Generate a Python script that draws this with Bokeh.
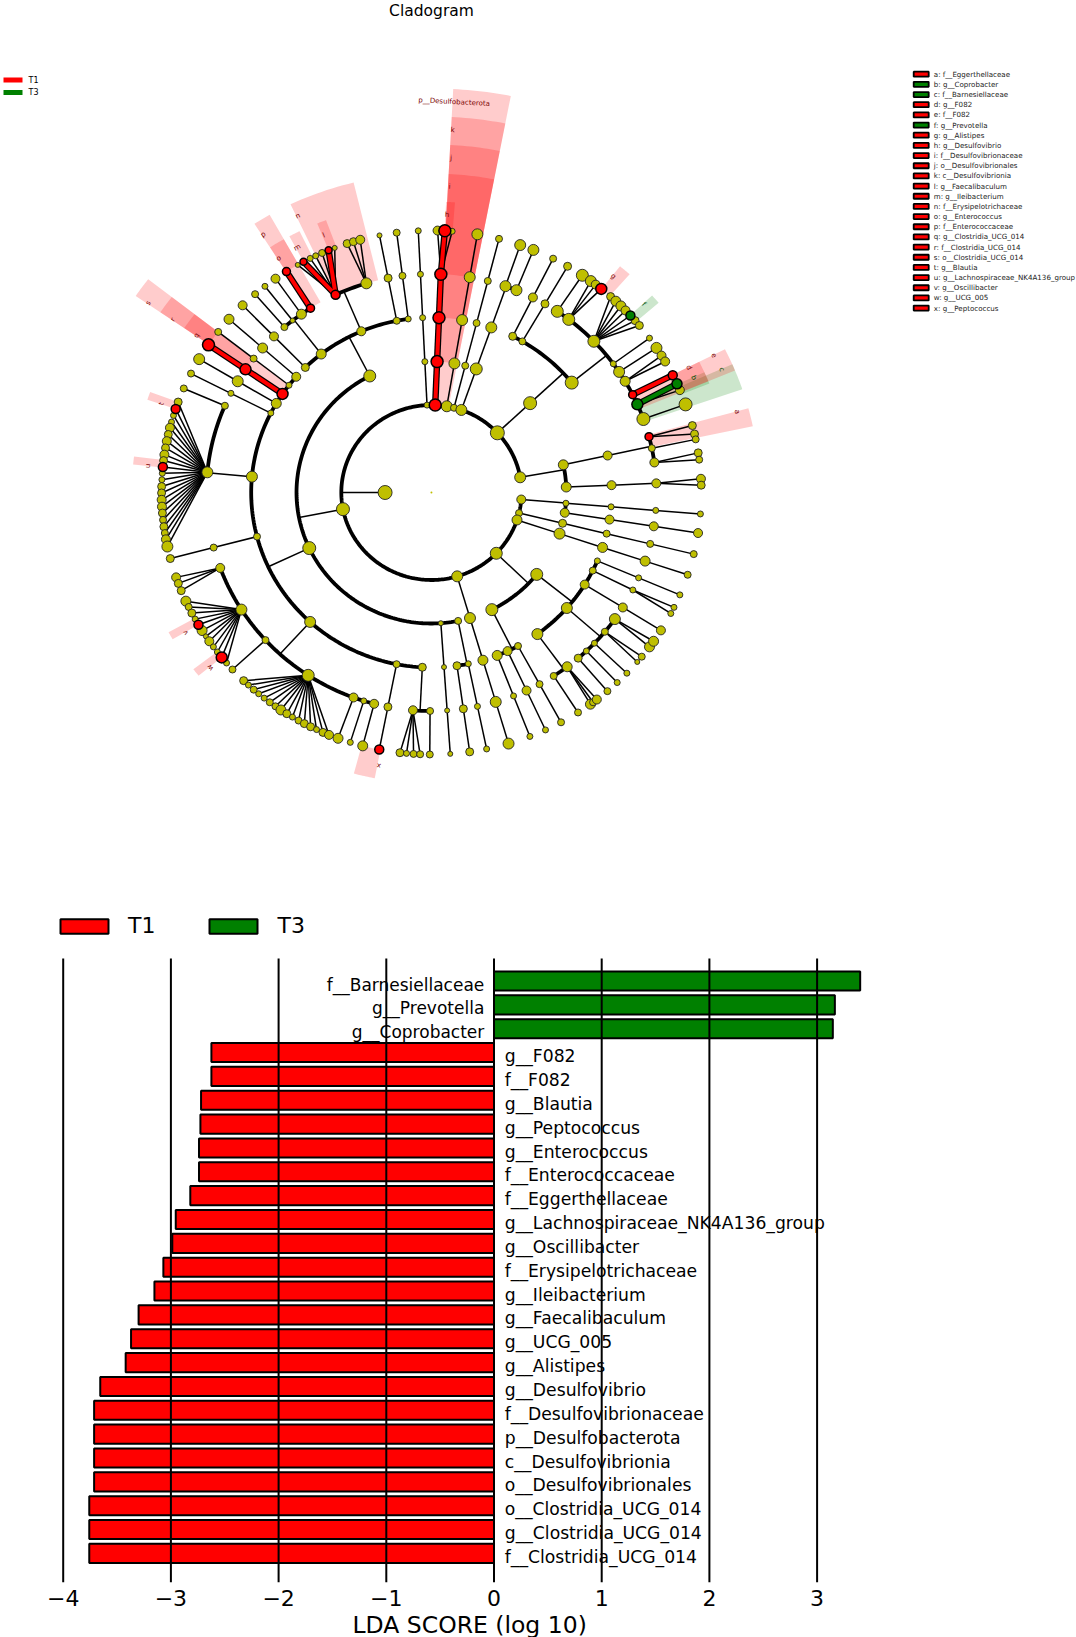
import math
from bokeh.core.properties import value
from bokeh.embed import file_html
from bokeh.layouts import column
from bokeh.models import FixedTicker, Legend, LegendItem, Range1d, Title
from bokeh.plotting import figure
from bokeh.resources import INLINE

FONT = "DejaVu Sans"

# ---- bar chart data (top to bottom) ----
bar_names = ["f__Barnesiellaceae", "g__Prevotella", "g__Coprobacter", "g__F082", "f__F082", "g__Blautia",
             "g__Peptococcus", "g__Enterococcus", "f__Enterococcaceae", "f__Eggerthellaceae",
             "g__Lachnospiraceae_NK4A136_group", "g__Oscillibacter", "f__Erysipelotrichaceae", "g__Ileibacterium",
             "g__Faecalibaculum", "g__UCG_005", "g__Alistipes", "g__Desulfovibrio", "f__Desulfovibrionaceae",
             "p__Desulfobacterota", "c__Desulfovibrionia", "o__Desulfovibrionales", "o__Clostridia_UCG_014",
             "g__Clostridia_UCG_014", "f__Clostridia_UCG_014"]
bar_values = [3.40, 3.165, 3.146, -2.624, -2.624, -2.72, -2.726, -2.739, -2.739, -2.82, -2.955, -2.987, -3.07,
              -3.153, -3.30, -3.37, -3.42, -3.656, -3.713, -3.713, -3.713, -3.713, -3.758, -3.758, -3.758]
bar_ticks = [-4, -3, -2, -1, 0, 1, 2, 3]

# ---- legend of the cladogram ----
key_labels = ["a: f__Eggerthellaceae", "b: g__Coprobacter", "c: f__Barnesiellaceae", "d: g__F082", "e: f__F082",
              "f: g__Prevotella", "g: g__Alistipes", "h: g__Desulfovibrio", "i: f__Desulfovibrionaceae",
              "j: o__Desulfovibrionales", "k: c__Desulfovibrionia", "l: g__Faecalibaculum", "m: g__Ileibacterium",
              "n: f__Erysipelotrichaceae", "o: g__Enterococcus", "p: f__Enterococcaceae", "q: g__Clostridia_UCG_014",
              "r: f__Clostridia_UCG_014", "s: o__Clostridia_UCG_014", "t: g__Blautia",
              "u: g__Lachnospiraceae_NK4A136_group", "v: g__Oscillibacter", "w: g__UCG_005", "x: g__Peptococcus"]
key_groups = list("rggrrgrrrrrrrrrrrrrrrrrr")

# ---- cladogram: (name, parent, clockwise angle from north, node diameters outward, colours) ----
clade_top = [
    ("", "K", 357.2, [6, 6, 6, 6, 6], ""),
    ("h4", "K", 2.4, [12, 12, 12, 12], "rrrr"),
    ("", "h4", 1.3, [9], ""), ("", "h4", 2.85, [12], "r"), ("", "h4", 4.4, [6], ""),
    ("", "K", 9.8, [11, 11, 11, 11, 11], ""),
    ("", "K", 14.5, [7, 7, 7, 7, 7], ""),
    ("f3", "K", 19.4, [11, 12, 11], ""),
    ("", "f3", 19.2, [11, 11], ""), ("", "f3", 22.2, [11, 11], ""),
]
clade_right_upper = [
    ("m2", "K", 47.0, [14, 13], ""),
    ("", "m2", 26.8, [8, 9, 7], ""), ("", "m2", 30.3, [7, 8, 8], ""),
    ("m3", "m2", 51.1, [13], ""),
    ("", "m3", 34.0, [12, 12], ""),
    ("n37", "m3", 37.6, [12], ""),
    ("", "n37", 36.2, [11], ""), ("", "n37", 37.5, [9], ""), ("", "n37", 39.0, [11], "r"),
    ("n46", "m3", 46.2, [12], ""),
    ("", "n46", 41.6, [8], ""), ("", "n46", 43.1, [10], ""), ("", "n46", 44.6, [10], ""), ("", "n46", 46.0, [9], ""),
    ("", "n46", 47.5, [9], "g"), ("", "n46", 49.0, [8], ""), ("", "n46", 50.4, [8], ""),
    ("", "m3", 53.9, [6, 6], ""),
    ("", "m3", 56.5, [11, 11], ""),
    ("n59", "m3", 59.4, [10], ""), ("", "n59", 58.5, [9], ""), ("", "n59", 60.0, [9], ""),
    ("", "m3", 63.4, [8, 9], "rr"),
    ("n66", "m3", 66.2, [11], "g"), ("", "n66", 65.5, [10], "g"), ("", "n66", 67.0, [9], ""),
    ("", "m3", 70.35, [13, 13], ""),
]
clade_right_mid = [
    ("b1", "K", 80.0, [11], ""),
    ("b2", "b1", 87.6, [10, 9, 9], ""), ("", "b2", 87.0, [9], ""), ("", "b2", 88.4, [8], ""),
    ("b3", "b1", 77.8, [10, 9], ""),
    ("b75", "b3", 75.2, [8], "r"), ("", "b75", 75.2, [8], ""), ("", "b75", 77.1, [8], ""),
    ("", "b3", 78.3, [7, 7], ""),
    ("b82", "b3", 82.1, [9], ""), ("", "b82", 81.3, [8], ""), ("", "b82", 82.8, [7], ""),
    ("c1", "K", 94.6, [9], ""),
    ("", "c1", 94.7, [6, 6, 6, 6], ""), ("", "c1", 98.9, [9, 9, 9, 9], ""),
    ("", "K", 103.6, [7, 8, 7, 7, 7], ""),
    ("", "K", 108.3, [10, 11, 10, 10, 7], ""),
]
clade_lower_right = [
    ("d1", "K", 134.0, [12], ""),
    ("d2", "d1", 153.4, [12], ""),
    ("", "d2", 158.6, [10, 6, 6], ""), ("", "d2", 155.0, [9, 9, 6], ""), ("", "d2", 151.3, [7, 7, 7], ""),
    ("d4", "d1", 128.7, [12], ""),
    ("d5", "d4", 144.0, [11], ""),
    ("", "d5", 147.1, [7, 7], ""),
    ("d6", "d5", 142.9, [10], ""), ("", "d6", 143.9, [10], ""), ("", "d6", 143.2, [7], ""), ("", "d6", 142.2, [9], ""),
    ("d7", "d4", 131.3, [11], ""),
    ("", "d7", 139.3, [8, 7], ""), ("", "d7", 136.5, [6, 6], ""), ("", "d7", 133.6, [6, 6], ""),
    ("d8", "d7", 129.6, [7], ""), ("", "d8", 130.3, [5], ""), ("", "d8", 128.8, [7], ""),
    ("d9", "d7", 125.4, [11], ""), ("", "d9", 126.1, [10], ""), ("", "d9", 124.6, [10], ""),
    ("", "d4", 121.75, [9, 9, 9], ""),
    ("d10", "d4", 116.5, [7, 6], ""), ("", "d10", 117.5, [6], ""), ("", "d10", 116.0, [6], ""),
    ("", "d4", 113.0, [6, 6, 6], ""),
    ("", "K", 163.4, [11, 11, 10, 11, 11], ""),
]
clade_left = [
    ("e1", "K", 259.0, [13], ""),
    ("e2", "e1", 244.9, [13], ""),
    ("", "e2", 311.4, [9, 10, 10], ""),
    ("", "e2", 307.8, [6, 7, 7], ""),
    ("", "e2", 304.3, [11, 11, 12], "rrr"),
    ("", "e2", 300.6, [10, 11, 11], ""),
    ("", "e2", 297.0, [6, 6, 7], ""),
    ("e3", "e2", 275.2, [11], ""),
    ("", "e3", 293.4, [7, 7], ""),
    ("e4", "e3", 275.3, [11], ""),
    ("", "e4", 290.2, [8], ""), ("", "e4", 288.6, [9], "r"), ("", "e4", 287.1, [6], ""), ("", "e4", 285.6, [6], ""),
    ("", "e4", 284.3, [9], ""), ("", "e4", 282.8, [8], ""), ("", "e4", 281.3, [9], ""), ("", "e4", 279.8, [8], ""),
    ("", "e4", 278.3, [9], ""), ("", "e4", 277.0, [8], ""), ("", "e4", 275.6, [9], "r"), ("", "e4", 274.2, [6], ""),
    ("", "e4", 272.8, [6], ""), ("", "e4", 271.3, [8], ""), ("", "e4", 269.9, [8], ""), ("", "e4", 268.4, [9], ""),
    ("", "e4", 266.9, [9], ""), ("", "e4", 265.5, [8], ""), ("", "e4", 264.0, [7], ""), ("", "e4", 262.5, [8], ""),
    ("", "e4", 261.1, [7], ""), ("", "e4", 259.7, [9], ""), ("", "e4", 258.1, [11], ""),
    ("", "e2", 255.4, [7, 7, 8], ""),
    ("e5", "e2", 222.3, [11], ""),
    ("e6", "e5", 249.8, [9], ""), ("", "e6", 251.1, [9], ""), ("", "e6", 249.7, [8], ""), ("", "e6", 248.0, [8], ""),
    ("e7", "e5", 237.6, [11], ""),
    ("", "e7", 245.5, [10], ""), ("", "e7", 244.1, [7], ""), ("", "e7", 242.6, [8], ""), ("", "e7", 241.1, [6], ""),
    ("", "e7", 239.7, [9], "r"), ("", "e7", 238.2, [10], ""), ("", "e7", 236.7, [5], ""), ("", "e7", 235.4, [9], ""),
    ("", "e7", 233.9, [6], ""), ("", "e7", 232.5, [6], ""), ("", "e7", 231.0, [11], "r"), ("", "e7", 229.4, [6], ""),
    ("", "e5", 227.5, [7, 7], ""),
    ("e8", "e5", 213.2, [12], ""),
    ("", "e8", 224.1, [8], ""), ("", "e8", 222.7, [6], ""), ("", "e8", 221.2, [7], ""), ("", "e8", 219.8, [6], ""),
    ("", "e8", 218.3, [6], ""), ("", "e8", 216.8, [7], ""), ("", "e8", 215.3, [7], ""), ("", "e8", 213.9, [10], ""),
    ("", "e8", 212.4, [8], ""), ("", "e8", 211.0, [6], ""), ("", "e8", 209.5, [7], ""), ("", "e8", 208.1, [8], ""),
    ("", "e8", 206.6, [8], ""), ("", "e8", 205.2, [6], ""), ("", "e8", 203.7, [8], ""), ("", "e8", 202.3, [9], ""),
    ("", "e5", 200.25, [9, 10], ""), ("", "e5", 197.5, [6, 6], ""), ("", "e5", 194.75, [9, 10], ""),
    ("", "e2", 191.15, [7, 8, 9], "oor"),
    ("e9", "e2", 182.9, [8], ""),
    ("e10", "e9", 184.7, [9], ""),
    ("", "e10", 186.7, [8], ""), ("", "e10", 185.3, [6], ""), ("", "e10", 183.8, [7], ""), ("", "e10", 182.4, [7], ""),
    ("", "e9", 180.35, [7, 7], ""),
    ("", "e1", 176.0, [5, 5, 5, 5], ""),
    ("e11", "e1", 168.6, [7], ""),
    ("", "e11", 171.85, [8, 8, 8], ""), ("", "e11", 168.2, [6, 6, 6], ""),
]
clade_top_left = [
    ("e20", "e1", 332.8, [12], ""),
    ("", "e20", 315.6, [8, 9, 9], ""),
    ("g1", "e20", 322.3, [10], ""),
    ("", "g1", 319.2, [7, 7], ""), ("", "g1", 321.9, [5, 6], ""), ("", "g1", 324.7, [10, 9], ""),
    ("", "g1", 327.5, [8, 8], "rr"),
    ("g2", "e20", 337.1, [9], ""),
    ("g3", "g2", 334.8, [9], "r"),
    ("", "g3", 330.3, [5], ""), ("", "g3", 331.7, [7], "r"), ("", "g3", 333.3, [6], ""), ("", "g3", 334.6, [6], ""),
    ("", "g3", 336.1, [7], ""), ("", "g3", 337.6, [7], "r"), ("", "g3", 339.0, [5], ""),
    ("g4", "g2", 343.2, [11], ""),
    ("", "g4", 341.8, [8], ""), ("", "g4", 343.2, [8], ""), ("", "g4", 344.7, [9], ""),
    ("", "e20", 348.9, [7, 8, 5], ""),
    ("", "e20", 352.6, [6, 7, 7], ""),
]

# ---- shaded sectors: label, level of the clade, first and last angle, group ----
shade_labels = ["a", "b", "c", "d", "e", "f", "g", "h", "i", "j", "k", "p__Desulfobacterota",
                "l", "m", "n", "o", "p", "q", "r", "s", "t", "u", "v", "w", "x"]
shade_levels = [4, 5, 4, 5, 4, 5, 5, 5, 4, 3, 2, 1, 5, 5, 4, 5, 4, 5, 4, 3, 5, 5, 5, 5, 5]
shade_start = [74.7, 65.6, 66.3, 63.3, 63.3, 47.4, 39.0, 2.8, 3.0, 3.0, 3.0, 3.0, 337.6, 331.7, 334.6, 327.4, 327.4,
               304.4, 304.4, 304.4, 288.6, 275.5, 239.7, 231.0, 190.9]
shade_end = [78.0, 68.0, 71.1, 67.5, 67.5, 49.3, 41.4, 4.5, 11.0, 11.0, 11.0, 11.0, 339.4, 333.9, 346.3, 330.5, 330.5,
             307.8, 307.8, 307.8, 290.2, 277.1, 241.3, 232.6, 195.0]
shade_groups = ["r", "g", "g", "r", "r", "g", "r", "r", "r", "r", "r", "r",
                "r", "r", "r", "r", "r", "r", "r", "r", "r", "r", "r", "r", "r"]

# ---- geometry of the drawing ----
RADII = [45.0, 87.5, 131.0, 175.0, 218.5, 262.0]
OUTER = [0, 404.0, 376.0, 348.0, 319.0, 291.0]
COL = {"o": "#bfbf00", "r": "#ff0000", "g": "#008000"}
DARK = {"r": "#7a0000", "g": "#004d00"}
CX, CY, XS = 433.0, 492.0, 1.03
TREE_DX = -2.0


def pol(r, a):
    t = math.radians(a)
    return r * math.sin(t) + TREE_DX, r * math.cos(t)


def page(px, py):
    return (px - CX) / XS, CY - py


# build the tree
nodes = {"K": dict(level=0, angle=270.0, d=14, c="o", kids=[])}
order = ["K"]
count = 0
for rows in (clade_top, clade_right_upper, clade_right_mid, clade_lower_right, clade_left, clade_top_left):
    for name, parent, angle, sizes, cols in rows:
        prev = parent
        for i, d in enumerate(sizes):
            count += 1
            last = i == len(sizes) - 1
            nid = name if (last and name) else f"_{count}"
            c = cols[i] if i < len(cols) else "o"
            nodes[nid] = dict(level=nodes[prev]["level"] + 1, angle=angle, d=d, c=c, kids=[])
            nodes[prev]["kids"].append(nid)
            order.append(nid)
            prev = nid

thin_x, thin_y, ring_x, ring_y = [], [], [], []
hi_x, hi_y, hi_c = [], [], []
for nid in order:
    n = nodes[nid]
    if not n["kids"]:
        continue
    level = n["level"]
    rc = RADII[level + 1]
    px, py = pol(RADII[level], n["angle"])
    for k in n["kids"]:
        kid = nodes[k]
        kx, ky = pol(rc, kid["angle"])
        if level == 4 or len(n["kids"]) == 1:
            if n["c"] != "o" and kid["c"] != "o":
                hi_x.append([px, kx]); hi_y.append([py, ky]); hi_c.append(COL[kid["c"]])
            else:
                thin_x.append([px, kx]); thin_y.append([py, ky])
    if level < 4 and len(n["kids"]) > 1:
        sx0, sy0 = pol(rc, n["angle"])
        thin_x.append([px, sx0]); thin_y.append([py, sy0])
        un = [((nodes[k]["angle"] - n["angle"] + 180) % 360) - 180 + n["angle"] for k in n["kids"]]
        lo, hi = min(un), max(un)
        m = max(2, int((hi - lo) / 1.0))
        pts = [pol(rc, lo + (hi - lo) * j / m) for j in range(m + 1)]
        ring_x.append([q[0] for q in pts]); ring_y.append([q[1] for q in pts])

x0, x1 = page(0, 0)[0], page(1076, 0)[0]
y1, y0 = page(0, 0)[1], page(0, 900)[1]
p1 = figure(width=1076, height=900, x_range=Range1d(x0, x1), y_range=Range1d(y0, y1), output_backend="svg",
            toolbar_location=None, x_axis_type=None, y_axis_type=None, min_border=0, outline_line_color=None)
p1.grid.visible = False

# sectors
sx, sy, sc = [], [], []
for lv, a0, a1, g in zip(shade_levels, shade_start, shade_end, shade_groups):
    n = 12
    inner = [pol(RADII[lv], a0 + (a1 - a0) * j / n) for j in range(n + 1)]
    outer = [pol(OUTER[lv], a1 - (a1 - a0) * j / n) for j in range(n + 1)]
    sx.append([q[0] for q in inner + outer]); sy.append([q[1] for q in inner + outer]); sc.append(COL[g])
p1.patches(sx, sy, fill_color=sc, fill_alpha=0.2, line_color=None)

p1.multi_line(thin_x, thin_y, line_color="black", line_width=1.5)
p1.multi_line(ring_x, ring_y, line_color="black", line_width=3.8, line_cap="round")
p1.multi_line(hi_x, hi_y, line_color="black", line_width=6.5)
p1.multi_line(hi_x, hi_y, line_color=hi_c, line_width=4)

nx, ny, nd, nc = [], [], [], []
for nid in order:
    n = nodes[nid]
    q = pol(RADII[n["level"]], n["angle"])
    nx.append(q[0]); ny.append(q[1]); nd.append(n["d"]); nc.append(COL[n["c"]])
hi_nodes = [i for i, c in enumerate(nc) if c != COL["o"]]
lo_nodes = [i for i, c in enumerate(nc) if c == COL["o"]]
p1.scatter([nx[i] for i in lo_nodes], [ny[i] for i in lo_nodes], size=[nd[i] for i in lo_nodes],
           fill_color=[nc[i] for i in lo_nodes], line_color="#222222", line_width=0.9)
p1.scatter([nx[i] for i in hi_nodes], [ny[i] for i in hi_nodes], size=[nd[i] for i in hi_nodes],
           fill_color=[nc[i] for i in hi_nodes], line_color="black", line_width=1.5)
o = pol(0, 0)
p1.scatter([o[0]], [o[1]], size=2, fill_color=COL["o"], line_color=None)

# sector labels
tx, ty, tr, tc = [], [], [], []
for lv, a0, g in zip(shade_levels, shade_start, shade_groups):
    q = pol(OUTER[lv] - 13, a0)
    tx.append(q[0] + 1.5); ty.append(q[1]); tr.append(-math.radians(a0)); tc.append(DARK[g])
p1.text(tx, ty, text=shade_labels, angle=tr, text_color=tc, text_font=value(FONT), text_font_size="7px",
        text_align="center", text_baseline="middle")

# title and legends
tp = page(431, 10.5)
p1.text([tp[0]], [tp[1]], text=["Cladogram"], text_font=value(FONT), text_font_size="15.5px", text_color="black",
        text_align="center", text_baseline="middle")

# small class key, upper left
for lab, yy, g in zip(["T1", "T3"], [79.5, 92], ["r", "g"]):
    a = page(3, yy); b = page(22, yy); c = page(28, yy)
    p1.line([a[0], b[0]], [a[1], b[1]], line_color=COL[g], line_width=5)
    p1.text([c[0]], [c[1]], text=[lab], text_font=value(FONT), text_font_size="8px", text_color="black",
            text_baseline="middle")

# clade key, upper right
kx, ky, kc = [], [], []
kx2 = page(933.3, 0)[0]
for i, g in enumerate(key_groups):
    yy = 73.7 + i * 10.17
    q = page(920.7, yy)
    kx.append(q[0]); ky.append(q[1]); kc.append(COL[g])
p1.rect(kx, ky, width=15 / XS, height=5, fill_color=kc, line_color="black", line_width=1.8)
p1.text([kx2] * len(kx), ky, text=key_labels, text_font=value(FONT), text_font_size="7.1px", text_color="#222222",
        text_baseline="middle")

# ---- bar chart ----
X0, UNIT = 493.5, 107.7
TOP, PITCH = 980.5, 23.85
FIG_TOP, FRAME_BOTTOM = 900.0, 1582.0
p2 = figure(width=1076, frame_height=int(FRAME_BOTTOM - FIG_TOP), x_range=Range1d((0 - X0) / UNIT, (1076 - X0) / UNIT),
            y_range=Range1d((FRAME_BOTTOM - TOP) / PITCH, (FIG_TOP - TOP) / PITCH), output_backend="svg",
            toolbar_location=None, y_axis_type=None, min_border=0, outline_line_color=None)
p2.grid.visible = False
idx = list(range(len(bar_names)))
pos = [i for i in idx if bar_values[i] > 0]
neg = [i for i in idx if bar_values[i] < 0]
r_t3 = p2.hbar(y=pos, left=0, right=[bar_values[i] for i in pos], height=0.8, fill_color=COL["g"], line_color="black",
               line_width=2)
r_t1 = p2.hbar(y=neg, left=0, right=[bar_values[i] for i in neg], height=0.8, fill_color=COL["r"], line_color="black",
               line_width=2)
p2.segment(bar_ticks, [(958 - TOP) / PITCH] * len(bar_ticks), bar_ticks, [(FRAME_BOTTOM - TOP) / PITCH] * len(bar_ticks),
           line_color="black", line_width=2)
p2.text([-0.09] * len(pos), [i + 0.15 for i in pos], text=[bar_names[i] for i in pos], text_align="right",
        text_baseline="middle", text_font=value(FONT), text_font_size="17px", text_color="black")
p2.text([0.10] * len(neg), [i + 0.15 for i in neg], text=[bar_names[i] for i in neg], text_align="left",
        text_baseline="middle", text_font=value(FONT), text_font_size="17.2px", text_color="black")

ax = p2.xaxis[0]
ax.ticker = FixedTicker(ticks=bar_ticks)
ax.major_label_overrides = {t: str(t).replace("-", "\u2212") for t in bar_ticks}
ax.axis_line_color = None
ax.major_tick_line_color = None
ax.minor_tick_line_color = None
ax.major_label_text_font = FONT
ax.major_label_text_font_size = "22px"
ax.major_label_text_color = "black"
ax.major_label_standoff = 1

p2.add_layout(Title(text="LDA SCORE (log 10)", align="left", offset=352, text_font=FONT, text_font_size="23.5px",
                    text_font_style="normal", text_color="black", standoff=0), "below")

leg = Legend(items=[LegendItem(label="T1", renderers=[r_t1]), LegendItem(label="T3", renderers=[r_t3])],
             orientation="horizontal", location=(54, 644), glyph_width=60, glyph_height=18, label_standoff=14, spacing=48,
             label_text_font=FONT, label_text_font_size="22px", label_text_color="black", background_fill_alpha=0,
             border_line_color=None, margin=0, padding=0)
p2.add_layout(leg)

page_layout = column(p1, p2, spacing=0)
open("out.html", "w").write(file_html(page_layout, INLINE))
